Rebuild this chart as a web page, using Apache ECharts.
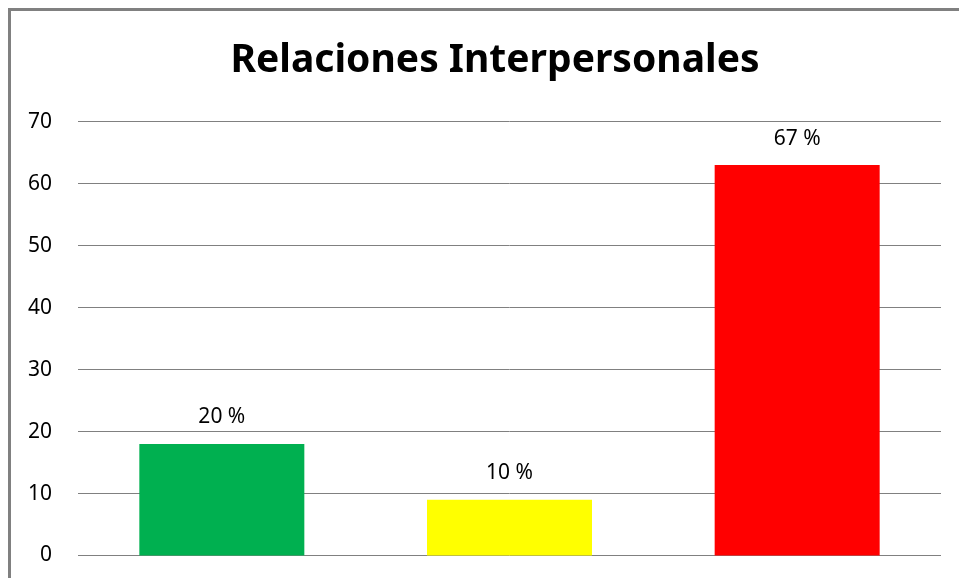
<!DOCTYPE html>
<html>
<head>
<meta charset="utf-8">
<script src="https://cdn.jsdelivr.net/npm/echarts@6/dist/echarts.min.js"></script>
<style>html,body{margin:0;padding:0;background:#fff}#c{width:959px;height:578px}</style>
</head>
<body>
<div id="c"></div>
<script>
const categories = ['A', 'B', 'C'];
const values = [18, 9, 63];
const labels = ['20 %', '10 %', '67 %'];
const colors = ['#00B050', '#FFFF00', '#FF0000'];
const yTicks = [0, 10, 20, 30, 40, 50, 60, 70];

const chart = echarts.init(document.getElementById('c'), null, {renderer: 'canvas'});
chart.setOption({
  animation: false,
  backgroundColor: '#fff',
  title: {
    text: 'Relaciones Interpersonales',
    left: 490, top: 36, textAlign: 'center',
    textStyle: {fontFamily: 'Noto Sans', fontWeight: 'bold', fontSize: 39, color: '#000'}
  },
  graphic: [{
    type: 'rect', silent: true,
    shape: {x: 9.5, y: 9.5, width: 2000, height: 2000},
    style: {fill: 'none', stroke: '#808080', lineWidth: 3}
  }],
  grid: {left: 78, right: 18, top: 121.7, bottom: 22.5, containLabel: false},
  xAxis: {
    type: 'category', data: categories,
    axisLine: {show: false}, axisTick: {show: false}, axisLabel: {show: false}
  },
  yAxis: {
    type: 'value', min: yTicks[0], max: yTicks[yTicks.length - 1], interval: 10,
    axisLine: {show: false}, axisTick: {show: false},
    axisLabel: {margin: 26, fontFamily: 'Noto Sans', fontSize: 21, color: '#000'},
    splitLine: {lineStyle: {color: '#808080', width: 1}}
  },
  series: [{
    type: 'bar', barWidth: 165,
    data: values.map((v, i) => ({value: v, itemStyle: {color: colors[i]}})),
    label: {
      show: true, position: 'top', distance: 16,
      formatter: p => labels[p.dataIndex],
      fontFamily: 'Noto Sans', fontSize: 21, color: '#000'
    },
    z: 1
  }]
});
</script>
</body>
</html>
